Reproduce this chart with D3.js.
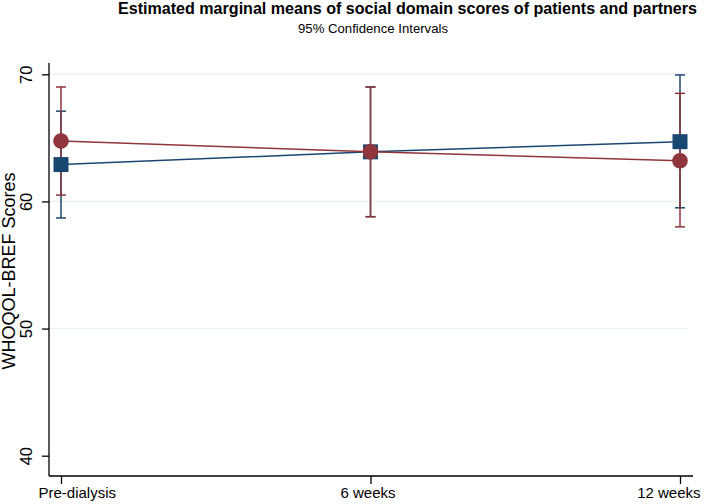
<!DOCTYPE html>
<html>
<head>
<meta charset="utf-8">
<script src="https://cdn.jsdelivr.net/npm/d3@7/dist/d3.min.js"></script>
<style>
  body { margin: 0; background: #fff; }
  svg { display: block; font-family: "Liberation Sans", Arial, sans-serif; }
</style>
</head>
<body>
<svg id="chart" width="709" height="504"></svg>
<script>
// data
const times = ['Pre-dialysis', '6 weeks', '12 weeks'];
const yTicks = [40, 50, 60, 70];

const patientMean = [62.9, 63.9, 64.7];
const patientLow  = [58.7, 58.8, 59.5];
const patientHigh = [67.1, 69.0, 69.95];

const partnerMean = [64.75, 63.9, 63.2];
const partnerLow  = [60.5, 58.8, 58.0];
const partnerHigh = [69.0, 69.0, 68.5];

const blue = '#1a476f', red = '#90353b';

const svg = d3.select('#chart');
const plotL = 49, plotR = 693, plotT = 63, plotB = 476;

const x = d3.scalePoint().domain(times).range([61, 680]);
const y = d3.scaleLinear().domain([40, 70]).range([455.7, 74.3]);

// grid
svg.append('g').selectAll('line').data(yTicks.filter(d => d > 40)).enter()
  .append('line')
  .attr('x1', plotL).attr('x2', plotR - 5)
  .attr('y1', d => y(d)).attr('y2', d => y(d))
  .attr('stroke', '#eaf2f3').attr('stroke-width', 1.5);

// axes
const yAxis = svg.append('g').attr('transform', `translate(${plotL},0)`)
  .call(d3.axisLeft(y).tickValues(yTicks).tickSize(7).tickPadding(6));
yAxis.select('.domain').attr('d', `M0,${plotT}V${plotB}`);
yAxis.selectAll('.tick text')
  .attr('transform', 'rotate(-90)')
  .attr('x', 0).attr('y', -17).attr('dy', 0)
  .attr('text-anchor', 'middle')
  .attr('font-size', 16.5).attr('fill', '#000');

const xAxis = svg.append('g').attr('transform', `translate(0,${plotB})`)
  .call(d3.axisBottom(x).tickSize(8).tickPadding(6));
xAxis.select('.domain').attr('d', `M${plotL},0H${plotR}`);
xAxis.selectAll('.tick text')
  .attr('font-size', 15).attr('fill', '#000').attr('y', 22).attr('dy', 0)
  .attr('text-anchor', (d, i) => i == 0 ? 'start' : (i == times.length - 1 ? 'end' : 'middle'))
  .attr('dx', (d, i) => i == 0 ? -23 : (i == times.length - 1 ? 20 : -3));

svg.selectAll('.domain, .tick line').attr('stroke', '#000').attr('stroke-width', 1.3);

// y title
svg.append('text')
  .attr('transform', 'translate(15,271) rotate(-90)')
  .attr('text-anchor', 'middle').attr('font-size', 18)
  .text('WHOQOL-BREF Scores');

// titles
svg.append('text')
  .attr('x', 118).attr('y', 14)
  .attr('font-size', 16).attr('font-weight', 'bold')
  .attr('textLength', 579).attr('lengthAdjust', 'spacingAndGlyphs')
  .text('Estimated marginal means of social domain scores of patients and partners');
svg.append('text')
  .attr('x', 298).attr('y', 33)
  .attr('font-size', 12)
  .attr('textLength', 150).attr('lengthAdjust', 'spacingAndGlyphs')
  .text('95% Confidence Intervals');

const series = [
  { mean: patientMean, low: patientLow, high: patientHigh, color: blue, shape: 'square' },
  { mean: partnerMean, low: partnerLow, high: partnerHigh, color: red, shape: 'circle' }
];

const line = d3.line().x((d, i) => x(times[i])).y(d => y(d));

// error bars and lines
for (let s of series) {
  const g = svg.append('g').attr('stroke', s.color).attr('stroke-width', 1.5).attr('fill', 'none');
  times.forEach((t, i) => {
    const cx = x(t);
    g.append('line').attr('x1', cx).attr('x2', cx).attr('y1', y(s.low[i])).attr('y2', y(s.high[i]));
    g.append('line').attr('x1', cx - 5).attr('x2', cx + 5).attr('y1', y(s.low[i])).attr('y2', y(s.low[i]));
    g.append('line').attr('x1', cx - 5).attr('x2', cx + 5).attr('y1', y(s.high[i])).attr('y2', y(s.high[i]));
  });
  g.append('path').attr('d', line(s.mean));
}

// markers
for (let s of series) {
  const g = svg.append('g').attr('fill', s.color);
  if (s.shape == 'square') {
    g.selectAll('rect').data(s.mean).enter().append('rect')
      .attr('x', (d, i) => x(times[i]) - 7.5).attr('y', d => y(d) - 7.5)
      .attr('width', 15).attr('height', 15);
  } else {
    g.selectAll('circle').data(s.mean).enter().append('circle')
      .attr('cx', (d, i) => x(times[i])).attr('cy', d => y(d)).attr('r', 7.8);
  }
}
</script>
</body>
</html>
